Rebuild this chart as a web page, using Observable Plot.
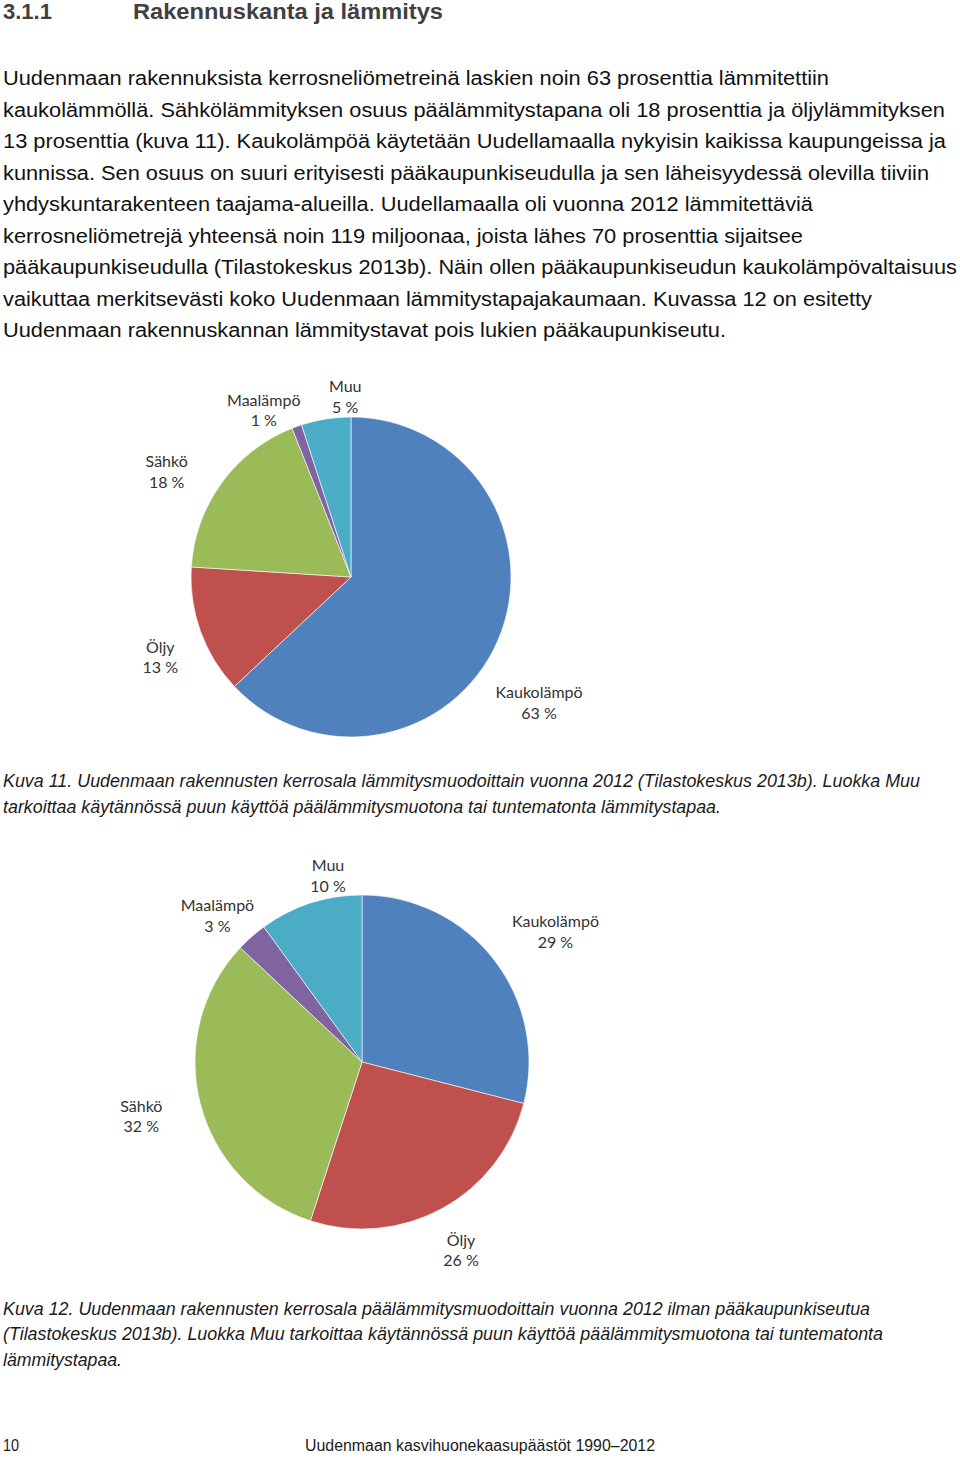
<!DOCTYPE html>
<html>
<head>
<meta charset="utf-8">
<script src="https://cdn.jsdelivr.net/npm/d3@7"></script>
<script src="https://cdn.jsdelivr.net/npm/@observablehq/plot@0.6"></script>
<style>
  html, body { margin: 0; padding: 0; background: #fff; }
  #page { position: relative; width: 960px; height: 1459px; overflow: hidden; background: #fff; }
  .t { position: absolute; white-space: nowrap; transform-origin: 0 0; }
  .pie { position: absolute; left: 0; }
</style>
</head>
<body>
<div id="page"></div>
<script>
// ---------- data ----------
const categories = ["Kaukolämpö", "Öljy", "Sähkö", "Maalämpö", "Muu"];
const sharesUusimaa = [63, 13, 18, 1, 5];          // Kuva 11
const sharesWithoutCapital = [29, 26, 32, 3, 10];   // Kuva 12
const sliceColors = ["#4F81BD", "#C0504D", "#9BBB59", "#8064A2", "#4BACC6"];

const headingNumber = "3.1.1";
const headingTitle = "Rakennuskanta ja lämmitys";
const bodyLines = [
  "Uudenmaan rakennuksista kerrosneliömetreinä laskien noin 63 prosenttia lämmitettiin",
  "kaukolämmöllä. Sähkölämmityksen osuus päälämmitystapana oli 18 prosenttia ja öljylämmityksen",
  "13 prosenttia (kuva 11). Kaukolämpöä käytetään Uudellamaalla nykyisin kaikissa kaupungeissa ja",
  "kunnissa. Sen osuus on suuri erityisesti pääkaupunkiseudulla ja sen läheisyydessä olevilla tiiviin",
  "yhdyskuntarakenteen taajama-alueilla. Uudellamaalla oli vuonna 2012 lämmitettäviä",
  "kerrosneliömetrejä yhteensä noin 119 miljoonaa, joista lähes 70 prosenttia sijaitsee",
  "pääkaupunkiseudulla (Tilastokeskus 2013b). Näin ollen pääkaupunkiseudun kaukolämpövaltaisuus",
  "vaikuttaa merkitsevästi koko Uudenmaan lämmitystapajakaumaan. Kuvassa 12 on esitetty",
  "Uudenmaan rakennuskannan lämmitystavat pois lukien pääkaupunkiseutu."
];
const caption1Lines = [
  "Kuva 11. Uudenmaan rakennusten kerrosala lämmitysmuodoittain vuonna 2012 (Tilastokeskus 2013b). Luokka Muu",
  "tarkoittaa käytännössä puun käyttöä päälämmitysmuotona tai tuntematonta lämmitystapaa."
];
const caption2Lines = [
  "Kuva 12. Uudenmaan rakennusten kerrosala päälämmitysmuodoittain vuonna 2012 ilman pääkaupunkiseutua",
  "(Tilastokeskus 2013b). Luokka Muu tarkoittaa käytännössä puun käyttöä päälämmitysmuotona tai tuntematonta",
  "lämmitystapaa."
];
const pageNumber = "10";
const footerTitle = "Uudenmaan kasvihuonekaasupäästöt 1990–2012";

// ---------- layout ----------
const page = document.getElementById("page");
const SANS = "'Liberation Sans', Arial, Helvetica, sans-serif";
const NARROW = "'Liberation Sans Narrow', 'Arial Narrow', 'Liberation Sans', sans-serif";

function addText(str, o) {
  const el = document.createElement("div");
  el.className = "t";
  el.textContent = str;
  Object.assign(el.style, {
    left: o.x + "px",
    top: (o.baseline - 0.8465 * o.size) + "px",
    fontSize: o.size + "px",
    lineHeight: o.size + "px",
    fontFamily: o.family,
    fontWeight: o.weight || "normal",
    fontStyle: o.style || "normal",
    color: o.color
  });
  page.appendChild(el);
  if (o.right) {
    const w = el.getBoundingClientRect().width;
    if (w > 0) el.style.transform = `scaleX(${(o.right - o.x) / w})`;
  }
}

// heading
addText(headingNumber, {x: 3, baseline: 20, size: 22, family: SANS, weight: "bold", color: "#404040", right: 52});
addText(headingTitle, {x: 133, baseline: 20, size: 22, family: SANS, weight: "bold", color: "#404040", right: 443});

// body
const bodyRights = [829, 945, 946, 929, 813, 803, 957, 872, 726];
bodyLines.forEach((s, i) => addText(s, {x: 3, baseline: 85 + i * 31.5, size: 20, family: SANS, color: "#111", right: bodyRights[i]}));

// captions
const cap1Rights = [920, 721];
caption1Lines.forEach((s, i) => addText(s, {x: 3, baseline: 787 + i * 26, size: 18, family: NARROW, style: "italic", color: "#1a1a1a", right: cap1Rights[i]}));
const cap2Rights = [870, 883, 122];
caption2Lines.forEach((s, i) => addText(s, {x: 3, baseline: 1315 + i * 25.7, size: 18, family: NARROW, style: "italic", color: "#1a1a1a", right: cap2Rights[i]}));

// footer
addText(pageNumber, {x: 3, baseline: 1452, size: 16, family: NARROW, color: "#1a1a1a", right: 19});
addText(footerTitle, {x: 305, baseline: 1452, size: 16, family: NARROW, color: "#1a1a1a", right: 655});

// ---------- pies ----------
function piePlot(values, geom) {
  const {width, height, cx, cy, r, labelRadius, nudge} = geom;
  const data = categories.map((name, i) => ({name, value: values[i]}));
  const arcs = d3.pie().sort(null).value(d => d.value)(data);
  const labels = arcs.map((a, i) => {
    const mid = (a.startAngle + a.endAngle) / 2;
    const [dx, dy] = nudge[i];
    return {
      text: `${a.data.name}\n${a.data.value} %`,
      x: labelRadius * Math.sin(mid) + dx / r,
      y: labelRadius * Math.cos(mid) - dy / r
    };
  });
  return Plot.plot({
    width, height, margin: 0,
    x: {domain: [-cx / r, (width - cx) / r], axis: null},
    y: {domain: [-(height - cy) / r, cy / r], axis: null},
    color: {domain: categories, range: sliceColors},
    marks: [
      (index, scales) => {
        const x0 = scales.x(0), y0 = scales.y(0), rr = scales.x(1) - x0;
        const color = scales.color || d3.scaleOrdinal(categories, sliceColors);
        const arc = d3.arc().innerRadius(0).outerRadius(rr);
        const g = d3.create("svg:g").attr("transform", `translate(${x0},${y0})`);
        g.selectAll("path").data(arcs).join("path")
          .attr("d", arc)
          .attr("fill", d => color(d.data.name))
          .attr("stroke", "#ffffff")
          .attr("stroke-width", 0.6);
        return g.node();
      },
      Plot.text(labels, {
        x: "x", y: "y", text: "text",
        fontSize: 16, lineHeight: 1.3, fill: "#333333",
        fontFamily: "Lato, 'Open Sans', sans-serif"
      })
    ]
  });
}

const pie1 = piePlot(sharesUusimaa, {
  width: 620, height: 400, cx: 351, cy: 217, r: 160, labelRadius: 1.25,
  nudge: [[4, 45], [-3, 11], [-23, 11], [-20, 20], [25, 16]]
});
const w1 = document.createElement("div"); w1.className = "pie"; w1.style.top = "360px";
w1.appendChild(pie1); page.appendChild(w1);

const pie2 = piePlot(sharesWithoutCapital, {
  width: 620, height: 440, cx: 362, cy: 222, r: 167, labelRadius: 1.25,
  nudge: [[28, -4], [-2, 4], [-19, 1], [-7, 9], [30, 11]]
});
const w2 = document.createElement("div"); w2.className = "pie"; w2.style.top = "840px";
w2.appendChild(pie2); page.appendChild(w2);
</script>
</body>
</html>
